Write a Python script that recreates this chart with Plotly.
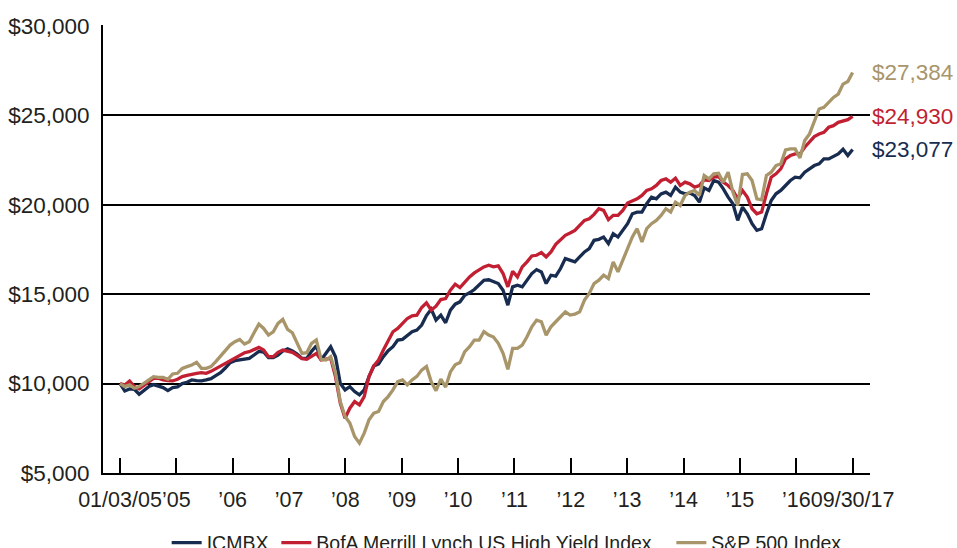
import plotly.graph_objects as go

# ---- data (monthly, 01/03/05 .. 09/30/17, growth of $10,000) ----
icmbx = [10000, 9587, 9699, 9680, 9401, 9606, 9829, 9940, 9866, 9773,
         9606, 9773, 9810, 9996, 10070, 10200, 10163, 10145, 10200, 10275,
         10442, 10609, 10869, 11167, 11278, 11315, 11371, 11408, 11594, 11798,
         11761, 11445, 11445, 11594, 11817, 11947, 11817, 11650, 11408, 11409,
         11800, 12115, 11316, 11700, 12059, 11502, 10015, 9644, 9829, 9551,
         9365, 9644, 10387, 10981, 11093, 11502, 11836, 12059, 12431, 12468,
         12710, 12895, 12988, 13266, 13800, 14150, 13550, 13824, 13396, 14103,
         14437, 14567, 14939, 15069, 15255, 15496, 15775, 15800, 15700, 15590,
         15218, 14382, 15404, 15497, 15404, 15776, 16147, 16370, 16240, 15590,
         16054, 15999, 16426, 16983, 16890, 16798, 17076, 17355, 17540, 18005,
         18061, 18191, 17819, 18377, 18191, 18563, 18934, 19491, 19584, 19584,
         20049, 20420, 20328, 20600, 20700, 20513, 20977, 20698, 20606, 20643,
         20513, 20141, 20940, 20791, 21349, 21256, 20884, 20420, 20048, 19119,
         19862, 19491, 18934, 18562, 18655, 19491, 20234, 20606, 20791, 21070,
         21349, 21535, 21498, 21813, 21999, 22185, 22278, 22557, 22557, 22687,
         22835, 23095, 22743, 23077]

hy_index = [10000, 9922, 10145, 9829, 9699, 9885, 10070, 10293, 10293, 10200,
            10163, 10145, 10237, 10386, 10460, 10535, 10572, 10609, 10572, 10683,
            10832, 10981, 11130, 11315, 11445, 11575, 11724, 11780, 11910, 12021,
            11873, 11501, 11501, 11743, 11873, 11817, 11743, 11575, 11390, 11353,
            11500, 11687, 11316, 11353, 11409, 10387, 8900, 8064, 8621, 8993,
            8807, 9272, 10387, 10981, 11316, 11873, 12430, 12895, 13081, 13359,
            13638, 13787, 13824, 14251, 14512, 14103, 14326, 14697, 14753, 15218,
            15552, 15366, 15682, 15961, 16184, 16350, 16519, 16612, 16519, 16574,
            16147, 15404, 16277, 15961, 16519, 16800, 17132, 17169, 17318, 17076,
            17355, 17782, 18005, 18284, 18414, 18563, 18841, 19120, 19213, 19454,
            19770, 19677, 19157, 19399, 19399, 19677, 20086, 20197, 20328, 20513,
            20792, 20885, 21071, 21349, 21442, 21256, 21479, 21070, 21256, 21163,
            20977, 21070, 21386, 21349, 21535, 21572, 21256, 21070, 20791, 20327,
            20791, 20420, 19770, 19491, 19584, 20606, 21535, 21720, 21999, 22557,
            22743, 22835, 22835, 23207, 23486, 23801, 23950, 24043, 24322, 24415,
            24600, 24693, 24750, 24930]

sp500 = [10000, 9829, 9922, 9736, 9829, 10015, 10163, 10386, 10349, 10349,
         10237, 10535, 10572, 10851, 10944, 11037, 11185, 10851, 10851, 10944,
         11222, 11538, 11873, 12151, 12337, 12467, 12207, 12337, 12839, 13322,
         13080, 12709, 12894, 13359, 13582, 13025, 12839, 12245, 11687, 11725,
         12245, 12431, 11353, 11316, 11502, 10600, 9000, 8157, 7786, 7043,
         6670, 7228, 7972, 8343, 8436, 8993, 9272, 9644, 10108, 10201,
         9922, 10201, 10400, 10750, 10950, 10100, 9600, 10250, 9800, 10650,
         11050, 11170, 11780, 12059, 12431, 12431, 12895, 12709, 12600, 12245,
         11688, 10796, 11967, 11967, 12152, 12617, 13174, 13546, 13453, 12709,
         13174, 13453, 13732, 14010, 13825, 13880, 14010, 14661, 15032, 15590,
         15776, 16054, 15868, 16798, 16240, 16890, 17634, 18191, 18655, 17912,
         18655, 18934, 19120, 19400, 19770, 19584, 20141, 19955, 20513, 20698,
         20791, 20513, 21628, 21442, 21720, 21758, 21256, 21813, 20698, 19955,
         21684, 21720, 21349, 20327, 20271, 21628, 21813, 22185, 22278, 23058,
         23114, 23114, 22612, 23579, 23950, 24600, 25344, 25436, 25715, 25994,
         26180, 26737, 26886, 27384]

series_names = ["ICMBX", "BofA Merrill Lynch US High Yield Index", "S&P 500 Index"]
end_labels = ["$23,077", "$24,930", "$27,384"]
x_tick_labels = ["01/03/05", "\u201905", "\u201906", "\u201907", "\u201908", "\u201909",
                 "\u201910", "\u201911", "\u201912", "\u201913", "\u201914", "\u201915",
                 "\u201916", "09/30/17"]
y_tick_values = [5000, 10000, 15000, 20000, 25000, 30000]
y_tick_labels = ["$5,000", "$10,000", "$15,000", "$20,000", "$25,000", "$30,000"]

colors = ["#182c50", "#c21f32", "#a8956a"]
FONT = "Liberation Sans, Arial, Helvetica, sans-serif"

n = len(icmbx)
months = list(range(n))
last = n - 1
tick_pos = [k * last / (len(x_tick_labels) - 1) for k in range(len(x_tick_labels))]

fig = go.Figure()
all_series = [icmbx, hy_index, sp500]
legend_ids = ["legend", "legend2", "legend3"]
for name, vals, col, lg in zip(series_names, all_series, colors, legend_ids):
    fig.add_trace(go.Scatter(x=months, y=vals, mode="lines", name=name,
                             line=dict(color=col, width=3.3), legend=lg,
                             hoverinfo="skip"))

for vals, lab, col in zip(all_series, end_labels, colors):
    fig.add_annotation(x=1, xref="paper", xanchor="left", xshift=0,
                       y=vals[-1], yref="y", yanchor="middle",
                       text=lab, showarrow=False,
                       font=dict(family=FONT, size=22.5, color=col))

legend_common = dict(orientation="h", yanchor="middle", xanchor="left",
                     bgcolor="rgba(0,0,0,0)", borderwidth=0,
                     font=dict(family=FONT, size=19.5, color="#231f20"))
fig.update_layout(
    width=957, height=548,
    margin=dict(l=103, r=87, t=25, b=75, autoexpand=False),
    paper_bgcolor="white", plot_bgcolor="white",
    showlegend=True,
    legend=dict(x=0.083, y=-0.156, **legend_common),
    legend2=dict(x=0.226, y=-0.156, **legend_common),
    legend3=dict(x=0.741, y=-0.156, **legend_common),
    xaxis=dict(range=[-3.55, last + 3.63], showgrid=False, zeroline=False,
               automargin=False,
               showline=True, linecolor="black", linewidth=2,
               tickmode="array", tickvals=tick_pos, ticktext=x_tick_labels,
               ticks="inside", ticklen=15, tickwidth=2, tickcolor="black",
               tickangle=0, ticklabelstandoff=6,
               tickfont=dict(family=FONT, size=21.5, color="#231f20")),
    yaxis=dict(range=[5000, 30040], showgrid=True, gridcolor="black", gridwidth=1.6,
               automargin=False,
               zeroline=False, showline=True, linecolor="black", linewidth=2,
               tickmode="array", tickvals=y_tick_values, ticktext=y_tick_labels,
               ticks="", ticklabelstandoff=7,
               tickfont=dict(family=FONT, size=22.5, color="#231f20")),
)

fig.write_html("out.html", config={"displayModeBar": False},
               post_script="document.body.style.margin='0';document.body.style.overflow='hidden';")
